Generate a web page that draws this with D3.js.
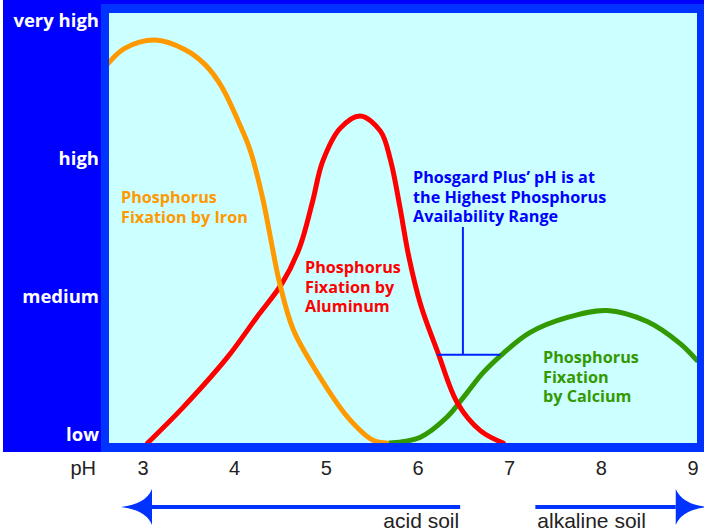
<!doctype html>
<html>
<head>
<meta charset="utf-8">
<script src="https://d3js.org/d3.v7.min.js"></script>
<style>
  body { margin: 0; background: #fff; }
  svg { display: block; }
</style>
</head>
<body>
<script>
// levels on the y axis (0 = low .. 3 = very high)
var levelLabels = ["low", "medium", "high", "very high"];
var phTicks = [3, 4, 5, 6, 7, 8, 9];

// curves: [pH, level]
var ironCurve = [[2.62,2.75],[2.80,2.86],[3.13,2.92],[3.46,2.85],[3.68,2.74],[3.86,2.58],[4.04,2.33],[4.17,2.12],
  [4.31,1.76],[4.39,1.49],[4.49,1.16],[4.64,0.82],[4.90,0.51],[5.23,0.19],[5.51,0.02],[5.66,0]];
var aluminumCurve = [[3.05,0],[3.44,0.26],[3.92,0.62],[4.24,0.91],[4.52,1.16],[4.71,1.42],[4.85,1.75],[4.96,2.04],
  [5.15,2.28],[5.37,2.37],[5.59,2.26],[5.70,2.05],[5.80,1.72],[5.90,1.35],[6.03,1.0],[6.22,0.65],[6.43,0.29],[6.68,0.09],[6.93,0]];
var calciumCurve = [[5.69,0],[6.02,0.04],[6.32,0.19],[6.53,0.36],[6.71,0.51],[6.93,0.65],[7.22,0.80],[7.63,0.91],
  [8.06,0.96],[8.50,0.88],[8.86,0.72],[9.04,0.60]];

var ironLabel = ["Phosphorus", "Fixation by Iron"];
var aluminumLabel = ["Phosphorus", "Fixation by", "Aluminum"];
var calciumLabel = ["Phosphorus", "Fixation", "by Calcium"];
var phosgardLabel = ["Phosgard Plus\u2019 pH is at", "the Highest Phosphorus", "Availability Range"];
var phosgardRange = [6.21, 6.9], phosgardLevel = 0.64, phosgardStem = 6.49;

var soilNames = ["acid soil", "alkaline soil"];
var soilRanges = [[6.46, 2.76], [7.28, 9.15]]; // [start, arrow tip]

var W = 704, H = 531;
var svg = d3.select("body").append("svg").attr("width", W).attr("height", H);

var x = d3.scaleLinear().domain([3, 9]).range([143, 693]);
var y = d3.scaleLinear().domain([0, 3]).range([443, 29]);

// frame
svg.append("rect").attr("x", 3).attr("y", 0).attr("width", W - 3).attr("height", 452).attr("fill", "#0000ff");
svg.append("rect").attr("x", 101).attr("y", 4).attr("width", W - 101).attr("height", 448).attr("fill", "#0033ff");
svg.append("rect").attr("x", 109).attr("y", 13).attr("width", 588).attr("height", 430).attr("fill", "#ccffff");

svg.append("clipPath").attr("id", "plot")
  .append("rect").attr("x", 109).attr("y", 13).attr("width", 588).attr("height", 430);

var line = d3.line().x(function(d){ return x(d[0]); }).y(function(d){ return y(d[1]); })
  .curve(d3.curveCatmullRom.alpha(0.5));

var g = svg.append("g").attr("clip-path", "url(#plot)");
[[calciumCurve, "#339900"], [aluminumCurve, "#ff0000"], [ironCurve, "#ff9900"]].forEach(function(c){
  g.append("path").datum(c[0]).attr("d", line).attr("fill", "none")
    .attr("stroke", c[1]).attr("stroke-width", 5).attr("stroke-linecap", "round");
});

// phosgard bracket
g.append("line").attr("x1", x(phosgardRange[0])).attr("x2", x(phosgardRange[1]))
  .attr("y1", y(phosgardLevel)).attr("y2", y(phosgardLevel)).attr("stroke", "#0022ff").attr("stroke-width", 2);
g.append("line").attr("x1", x(phosgardStem)).attr("x2", x(phosgardStem))
  .attr("y1", y(phosgardLevel)).attr("y2", 227).attr("stroke", "#0022ff").attr("stroke-width", 2);

// annotation labels, one text per line
var bold = "'Open Sans', sans-serif";
function block(lines, x0, y0, color) {
  lines.forEach(function(s, i){
    svg.append("text").attr("x", x0).attr("y", y0 + i * 19.7).attr("fill", color)
      .style("font-family", bold).style("font-weight", 700).style("font-size", "16.2px").text(s);
  });
}
block(ironLabel, 121, 203, "#ff9900");
block(aluminumLabel, 305, 273, "#ff0000");
block(phosgardLabel, 413, 183, "#0000ff");
block(calciumLabel, 543, 363, "#339900");

// y labels
svg.selectAll(".lvl").data(levelLabels).enter().append("text")
  .attr("x", 99).attr("y", function(d, i){ return y(i) - 2; })
  .attr("text-anchor", "end").attr("fill", "#fff")
  .style("font-family", bold).style("font-weight", 700).style("font-size", "18.5px")
  .text(function(d){ return d; });

// x ticks
var font = "'Liberation Sans', Arial, sans-serif";
svg.selectAll(".ph").data(phTicks).enter().append("text")
  .attr("x", function(d){ return x(d); }).attr("y", 475)
  .attr("text-anchor", "middle").attr("fill", "#222")
  .style("font-family", font).style("font-size", "20px")
  .text(function(d){ return d; });
svg.append("text").attr("x", 96).attr("y", 475).attr("text-anchor", "end").attr("fill", "#222")
  .style("font-family", font).style("font-size", "20px").text("pH");

// soil arrows
var ay = 507;
soilRanges.forEach(function(r, i){
  var x0 = x(r[0]), tip = x(r[1]), dir = tip > x0 ? 1 : -1, back = tip - dir * 31;
  svg.append("line").attr("x1", x0).attr("x2", back).attr("y1", ay).attr("y2", ay)
    .attr("stroke", "#0033ff").attr("stroke-width", 4);
  svg.append("path").attr("fill", "#0033ff")
    .attr("d", "M" + tip + "," + ay + " Q" + (back + dir * 6) + "," + (ay - 3) + " " + back + "," + (ay - 18) +
      " L" + back + "," + (ay + 18) + " Q" + (back + dir * 6) + "," + (ay + 3) + " " + tip + "," + ay + "Z");
  svg.append("text").attr("x", i ? x0 + 2 : x0 - 1).attr("y", 528)
    .attr("text-anchor", i ? "start" : "end").attr("fill", "#222")
    .style("font-family", font).style("font-size", "21px").text(soilNames[i]);
});
</script>
</body>
</html>
